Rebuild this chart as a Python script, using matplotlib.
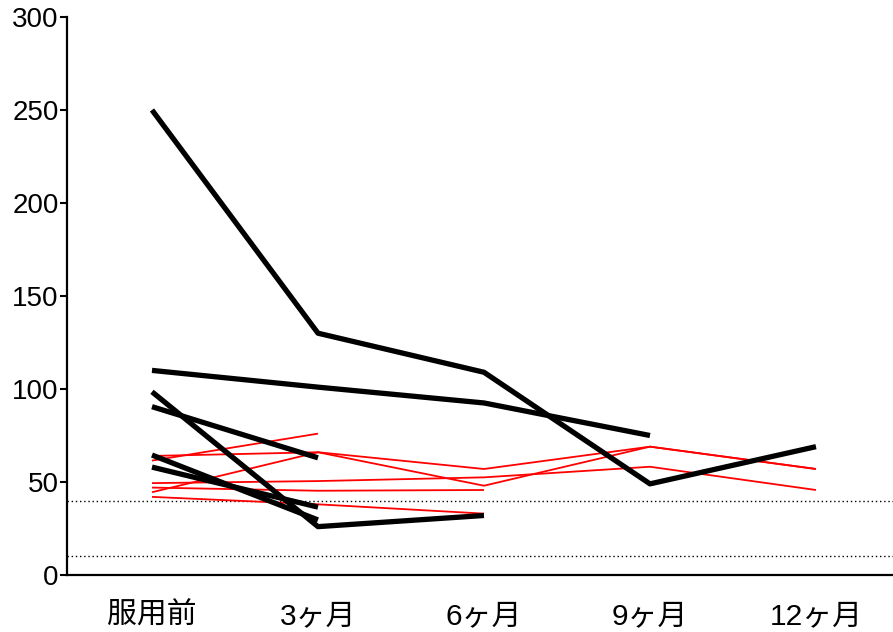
import numpy as np
import matplotlib
matplotlib.use("Agg")
import matplotlib.pyplot as plt

nan = np.nan
categories = ["服用前", "3ヶ月", "6ヶ月", "9ヶ月", "12ヶ月"]
yticks = [0, 50, 100, 150, 200, 250, 300]

# thick black series
black_series = [
    [250, 130, 109, 49, 69],
    [110, 101, 92.5, 75, nan],
    [98.5, 26, 32, nan, nan],
    [90.5, 63, nan, nan, nan],
    [64.5, 29.6, nan, nan, nan],
    [58, 36.5, nan, nan, nan],
]
# thin red series
red_series = [
    [61.5, 76, nan, nan, nan],
    [64, 66, 57, 69, 57],
    [44.5, 66, 48, 69, 57],
    [49.4, 50.5, 52.5, 58.2, 45.7],
    [47, 45.3, 45.7, nan, nan],
    [42, 38, 33, nan, nan],
]
ref_lines = [40, 10]

fig = plt.figure(figsize=(8.93, 6.32), dpi=100)
ax = fig.add_axes([67/893, 57/632, (893-67)/893, (575-17)/632])

x = np.arange(len(categories))
for s in red_series:
    ax.plot(x, s, color="#ff0000", lw=1.3, solid_capstyle="butt", zorder=2)
for s in black_series:
    ax.plot(x, s, color="black", lw=3.8, solid_capstyle="butt", zorder=3)
for r in ref_lines:
    ax.axhline(r, color="black", lw=1.0, ls=(0, (1, 2)), zorder=1)

ax.set_xlim(-0.512, 4.464)
ax.set_ylim(0, 300)
ax.set_yticks(yticks)
ax.set_yticklabels([str(v) for v in yticks], fontsize=20, family=["Liberation Sans", "DejaVu Sans"])
ax.set_xticks(x)
ax.set_xticklabels(categories, fontsize=21.5, family=["Liberation Sans", "Noto Sans CJK JP"])
ax.tick_params(axis="y", length=5, width=1.5, pad=1)
ax.tick_params(axis="x", length=0, pad=19.5)
for sp in ["top", "right"]:
    ax.spines[sp].set_visible(False)
for sp in ["left", "bottom"]:
    ax.spines[sp].set_linewidth(1.6)

fig.savefig("out.png", dpi=100)
